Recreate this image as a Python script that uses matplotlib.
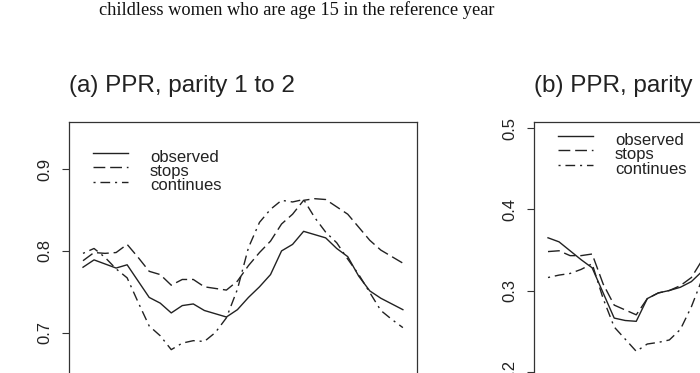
import matplotlib.pyplot as plt

# reference years (x axis is cropped away in the figure)
years = list(range(1961, 1991))

# (a) PPR, parity 1 to 2
observed_a = [0.780, 0.789, 0.784, 0.779, 0.783, 0.763, 0.743, 0.736, 0.724, 0.733,
              0.735, 0.727, 0.723, 0.719, 0.728, 0.743, 0.756, 0.771, 0.800, 0.808,
              0.824, 0.820, 0.816, 0.803, 0.793, 0.769, 0.751, 0.742, 0.735, 0.728]
stops_a = [0.788, 0.798, 0.797, 0.798, 0.808, 0.792, 0.775, 0.771, 0.758, 0.765,
           0.765, 0.756, 0.754, 0.752, 0.763, 0.782, 0.798, 0.812, 0.833, 0.845,
           0.862, 0.864, 0.863, 0.854, 0.845, 0.829, 0.813, 0.801, 0.793, 0.785]
continues_a = [0.797, 0.803, 0.792, 0.778, 0.767, 0.737, 0.708, 0.696, 0.679, 0.687,
               0.690, 0.689, 0.700, 0.718, 0.753, 0.804, 0.835, 0.851, 0.862, 0.860,
               0.863, 0.841, 0.823, 0.810, 0.790, 0.771, 0.749, 0.727, 0.716, 0.706]

# (b) PPR, parity 2 to 3 (only the left part is visible)
observed_b = [0.365, 0.360, 0.349, 0.338, 0.328, 0.297, 0.266, 0.263, 0.262, 0.290,
              0.297, 0.300, 0.304, 0.311, 0.324]
stops_b = [0.348, 0.349, 0.343, 0.343, 0.345, 0.308, 0.282, 0.276, 0.270, 0.290,
           0.297, 0.300, 0.306, 0.316, 0.338]
continues_b = [0.316, 0.319, 0.321, 0.326, 0.333, 0.290, 0.255, 0.240, 0.225, 0.234,
               0.236, 0.239, 0.252, 0.280, 0.315]

ticks_a = [0.7, 0.8, 0.9]
ticks_b = [0.2, 0.3, 0.4, 0.5]
labels = ['observed', 'stops', 'continues']

W, H = 700, 373
plt.rcParams['font.family'] = ['Liberation Sans', 'DejaVu Sans']
ink = '#222222'
styles = [dict(linestyle='-'),
          dict(linestyle=(0, (8.5, 3.5))),
          dict(linestyle=(0, (1.5, 3.5, 7, 3.5)))]

fig = plt.figure(figsize=(W / 100, H / 100), dpi=100)


def fx(px):
    return px / W


def fy(py):
    return 1 - py / H


def panel(left, ylim, ticks, series, title, leg_x, leg_y):
    ax = fig.add_axes([fx(left), fy(450), 348 / W, 328 / H])
    for vals, st in zip(series, styles):
        ax.plot(years[:len(vals)], vals, color=ink, lw=1.0, **st)
    ax.set_xlim(1959.73, 1991.28)
    ax.set_ylim(*ylim)
    ax.set_yticks(ticks, [f'{t:.1f}' for t in ticks], rotation=90, va='center')
    ax.set_xticks([])
    ax.tick_params(axis='y', length=4.7, width=0.8, pad=7, labelsize=12,
                   color='#333333', labelcolor=ink)
    for sp in ax.spines.values():
        sp.set_color('#333333')
        sp.set_linewidth(0.9)
    fig.text(fx(left), fy(92), title, fontsize=17.5, ha='left', va='baseline',
             color=ink)
    # legend drawn like R's legend(): short line samples and labels
    for k, (lab, st) in enumerate(zip(labels, styles)):
        y = leg_y + k * 14.4
        fig.add_artist(plt.Line2D([fx(leg_x), fx(leg_x + 35)], [fy(y), fy(y)],
                                  color=ink, lw=1.0, **st))
        fig.text(fx(leg_x + 57), fy(y + 9), lab, fontsize=12, ha='left',
                 va='baseline', color=ink, linespacing=1)
    return ax


panel(69, (0.556, 0.958), ticks_a, [observed_a, stops_a, continues_a],
      '(a) PPR, parity 1 to 2', 93, 152.7)
panel(534, (0.1033, 0.5078), ticks_b, [observed_b, stops_b, continues_b],
      '(b) PPR, parity 2 to 3', 558, 136)

fig.text(fx(296.5), fy(15), 'childless women who are age 15 in the reference year',
         fontsize=13.2, family=['Liberation Serif', 'DejaVu Serif'],
         ha='center', va='baseline', color='#111111')

fig.savefig('out.png', dpi=100)
